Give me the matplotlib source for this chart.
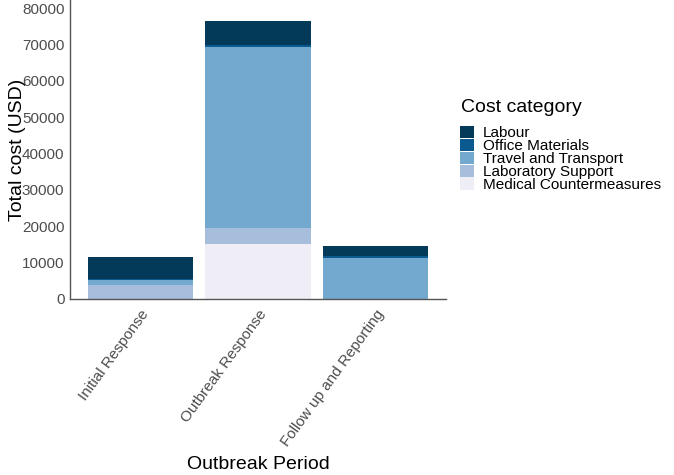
import numpy as np
import matplotlib
matplotlib.use('Agg')
import matplotlib.pyplot as plt
from matplotlib.patches import Patch

plt.rcParams['font.family'] = ['Liberation Sans', 'DejaVu Sans']

# data
periods = ['Initial Response', 'Outbreak Response', 'Follow up and Reporting']
categories = ['Labour', 'Office Materials', 'Travel and Transport',
              'Laboratory Support', 'Medical Countermeasures']
labour = [6200, 6600, 2700]
office = [250, 300, 350]
travel = [1300, 49900, 11400]
lab_support = [3900, 4400, 0]
medical = [0, 15100, 0]

colors = {
    'Labour': '#033a5a',
    'Office Materials': '#0a5a8f',
    'Travel and Transport': '#74a9cf',
    'Laboratory Support': '#a6bddb',
    'Medical Countermeasures': '#efedf5',
}

# bottom to top stacking
stack = [('Medical Countermeasures', medical),
         ('Laboratory Support', lab_support),
         ('Travel and Transport', travel),
         ('Office Materials', office),
         ('Labour', labour)]

fig = plt.figure(figsize=(6.74, 4.75), dpi=100)
ax = fig.add_axes([70 / 674, 1 - 299 / 475, 376 / 674, 299 / 475])

x = np.arange(len(periods))
bottom = np.zeros(len(periods))
for name, vals in stack:
    vals = np.array(vals, dtype=float)
    ax.bar(x, vals, bottom=bottom, width=0.9, color=colors[name], linewidth=0)
    bottom += vals

ax.set_xlim(-0.6, 2.6)
ax.set_ylim(0, 82200)
ax.set_yticks(np.arange(0, 80001, 10000))
ax.set_xticks(x)
ax.set_xticklabels(periods, rotation=54, ha='right', va='top',
                   rotation_mode='anchor')

for s in ['top', 'right']:
    ax.spines[s].set_visible(False)
for s in ['left', 'bottom']:
    ax.spines[s].set_color('#555555')
    ax.spines[s].set_linewidth(1.0)
ax.tick_params(axis='both', labelsize=11, labelcolor='#4d4d4d', length=0)
ax.tick_params(axis='y', pad=4)
ax.tick_params(axis='x', pad=6)

ax.set_ylabel('Total cost (USD)', fontsize=14)
ax.yaxis.set_label_coords(-0.118, 0.5)
ax.set_xlabel('Outbreak Period', fontsize=14)
ax.xaxis.set_label_coords(0.5, -0.555)
ax.xaxis.label.set_va('center')

# legend: title drawn separately so the gap to the keys matches
fig.text(461 / 674, 1 - 108 / 475, 'Cost category', fontsize=14,
         ha='left', va='center')
handles = [Patch(facecolor=colors[c], edgecolor='none') for c in categories]
fig.legend(handles, categories, loc='upper left',
           bbox_to_anchor=(460 / 674, 1 - 126 / 475),
           frameon=False, fontsize=11, borderpad=0, borderaxespad=0,
           labelspacing=-0.1, handlelength=0.92, handleheight=0.85,
           handletextpad=0.6)

fig.savefig('out.png', dpi=100)
